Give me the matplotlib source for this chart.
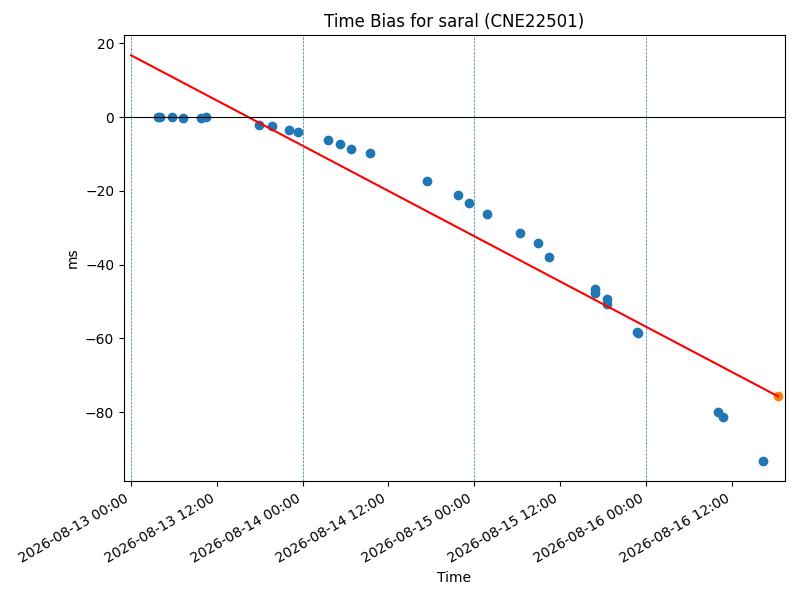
import numpy as np
import pandas as pd
import matplotlib
matplotlib.use("Agg")
import matplotlib.pyplot as plt
import matplotlib.dates as mdates

# observed time bias samples
obs_times = ["2026-08-13 03:46", "2026-08-13 04:03", "2026-08-13 05:46", "2026-08-13 07:19",
             "2026-08-13 09:44", "2026-08-13 10:32", "2026-08-13 17:56", "2026-08-13 19:40",
             "2026-08-13 22:08", "2026-08-13 23:18", "2026-08-14 03:35", "2026-08-14 05:16",
             "2026-08-14 06:45", "2026-08-14 09:27", "2026-08-14 17:25", "2026-08-14 21:45",
             "2026-08-14 23:17", "2026-08-15 01:48", "2026-08-15 06:25", "2026-08-15 08:56",
             "2026-08-15 10:28", "2026-08-15 16:54", "2026-08-15 16:54", "2026-08-15 18:35",
             "2026-08-15 18:35", "2026-08-15 22:48", "2026-08-15 22:52", "2026-08-16 10:06",
             "2026-08-16 10:43", "2026-08-16 16:23"]
obs_bias = [0.0, 0.0, 0.0, -0.3, -0.3, 0.0, -2.0, -2.5, -3.5, -4.1, -6.3, -7.3,
            -8.5, -9.8, -17.4, -21.1, -23.3, -26.3, -31.4, -34.2, -38.0, -46.5, -47.8,
            -49.2, -50.7, -58.2, -58.4, -79.8, -81.4, -93.2]

# linear fit / prediction
fit_times = ["2026-08-13 00:00", "2026-08-16 18:29"]
fit_bias = [16.8, -75.7]

pred_time = ["2026-08-16 18:29"]
pred_bias = [-75.7]

day_marks = ["2026-08-13", "2026-08-14", "2026-08-15", "2026-08-16"]

t_obs = pd.to_datetime(obs_times)
t_fit = pd.to_datetime(fit_times)
t_pred = pd.to_datetime(pred_time)

fig, ax = plt.subplots(figsize=(8, 6), dpi=100)
ax.scatter(t_obs, obs_bias)
ax.plot(t_fit, fit_bias, color="red")
ax.scatter(t_pred, pred_bias)
ax.axhline(0, color="black", linewidth=0.8)
for d in pd.to_datetime(day_marks):
    ax.axvline(d, linestyle="--", linewidth=0.5)

ax.set_xlim(pd.Timestamp("2026-08-12 23:01"), pd.Timestamp("2026-08-16 19:25"))
ax.xaxis.set_major_locator(mdates.HourLocator(byhour=[0, 12]))
ax.xaxis.set_major_formatter(mdates.DateFormatter("%Y-%m-%d %H:%M"))
ax.set_title("Time Bias for saral (CNE22501)")
ax.set_xlabel("Time")
ax.set_ylabel("ms")
fig.autofmt_xdate()
fig.subplots_adjust(left=0.155, right=0.981, top=0.9417, bottom=0.198)
plt.savefig("out.png")
